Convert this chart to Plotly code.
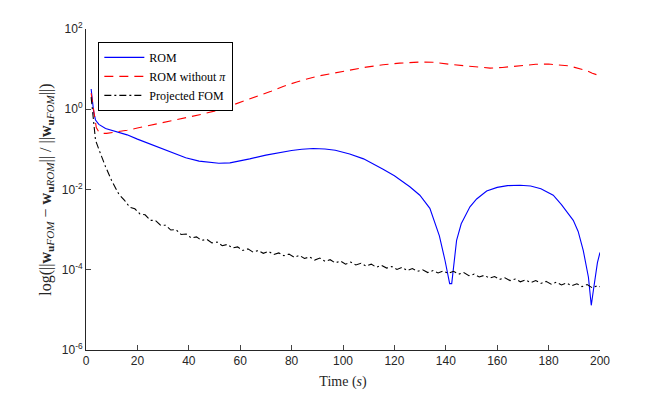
import plotly.graph_objects as go

# ROM error (blue)
t_rom = [2, 2.5, 3, 3.7, 5, 7.6, 10, 12.8, 16, 20, 25, 31, 35, 38.8, 44, 48, 51.7, 56, 60,
         63.7, 70, 75, 80, 84, 88.4, 93, 97, 102.6, 108, 115.6, 120, 126, 129.9, 133.8,
         135.5, 137.5, 139.7, 140.8, 141.5, 142.3, 143, 144.2, 146, 149.4, 152, 155.9,
         160, 164, 168.9, 173, 177, 181.8, 185, 189.6, 191.5, 193.5, 195.5, 196.6, 197.4,
         198.2, 199, 200]
err_rom = [3.2, 1.6, 0.85, 0.54, 0.42, 0.33, 0.30, 0.27, 0.23, 0.18, 0.135, 0.096, 0.078,
           0.062, 0.051, 0.047, 0.045, 0.046, 0.051, 0.058, 0.072, 0.083, 0.094, 0.101,
           0.105, 0.102, 0.095, 0.077, 0.058, 0.032, 0.022, 0.0117, 0.0072, 0.0034,
           0.0016, 0.0007, 0.00017, 7e-5, 4.5e-5, 4.5e-5, 0.00013, 0.00054, 0.0014,
           0.0037, 0.0058, 0.0092, 0.0113, 0.0125, 0.0128, 0.0122, 0.0105, 0.0072, 0.0042,
           0.0017, 0.0009, 0.0003, 6.5e-5, 1.3e-5, 3e-5, 8e-5, 0.00015, 0.00027]

# ROM without pi (red)
t_nopi = [2, 2.5, 3, 3.5, 4, 5, 6, 8, 10, 12.8, 16, 20, 25.8, 30, 38.8, 45, 51.7, 60, 65,
          68.6, 72, 76.7, 82, 89.7, 96, 102.6, 109, 115.6, 122, 130, 135, 142.9, 150,
          157.2, 162, 168.9, 175, 180, 188, 194.8, 197, 200]
err_nopi = [2.5, 1.5, 0.9, 0.5, 0.35, 0.27, 0.25, 0.25, 0.26, 0.275, 0.30, 0.34, 0.41,
            0.46, 0.6, 0.75, 0.96, 1.48, 1.9, 2.3, 2.8, 3.7, 4.8, 6.6, 7.9, 9.5, 11.2,
            12.8, 14.1, 15.0, 14.8, 12.9, 11.5, 10.6, 11.0, 12.3, 13.2, 13.4, 12.0, 9.2,
            7.9, 6.8]

# Projected FOM (black)
t_proj = [2, 2.5, 3, 3.7, 5, 6, 7.6, 10, 12.8] + list(range(15, 200, 2)) + [200]
err_proj = [2.0, 1.0, 0.4, 0.17, 0.1, 0.068, 0.037, 0.0166, 0.0076,
            5.37e-3, 3.63e-3, 3.31e-3, 2.45e-3, 2.34e-3, 1.70e-3, 1.70e-3, 1.29e-3,
            1.29e-3, 9.77e-4, 1.0e-3, 7.59e-4, 7.76e-4, 6.17e-4, 6.61e-4, 5.37e-4,
            5.75e-4, 4.68e-4, 4.90e-4, 3.98e-4, 4.27e-4, 3.47e-4, 3.72e-4, 3.02e-4,
            3.31e-4, 2.75e-4, 3.02e-4, 2.57e-4, 2.88e-4, 2.40e-4, 2.63e-4, 2.24e-4,
            2.45e-4, 2.04e-4, 2.29e-4, 1.91e-4, 2.09e-4, 1.74e-4, 1.95e-4, 1.62e-4,
            1.78e-4, 1.48e-4, 1.66e-4, 1.38e-4, 1.55e-4, 1.32e-4, 1.45e-4, 1.23e-4,
            1.38e-4, 1.15e-4, 1.29e-4, 1.10e-4, 1.20e-4, 1.02e-4, 1.15e-4, 9.55e-5,
            1.07e-4, 9.12e-5, 1.0e-4, 8.51e-5, 9.55e-5, 8.32e-5, 9.33e-5, 8.13e-5,
            9.12e-5, 7.76e-5, 8.51e-5, 7.08e-5, 7.76e-5, 6.61e-5, 7.24e-5, 6.17e-5,
            6.76e-5, 5.75e-5, 6.31e-5, 5.37e-5, 5.89e-5, 5.01e-5, 5.62e-5, 4.79e-5,
            5.37e-5, 4.57e-5, 5.13e-5, 4.37e-5, 4.90e-5, 4.17e-5, 4.68e-5, 3.98e-5,
            4.47e-5, 3.80e-5, 4.27e-5, 3.55e-5, 3.98e-5, 3.8e-5]

x_ticks = list(range(0, 201, 20))
y_ticks = [1e-6, 1e-4, 1e-2, 1e0, 1e2]
y_ticktext = ["10<sup>-6</sup>", "10<sup>-4</sup>", "10<sup>-2</sup>",
              "10<sup>0</sup>", "10<sup>2</sup>"]

serif = "Liberation Serif, DejaVu Serif, serif"
axis_col = "#262626"

fig = go.Figure()
fig.add_trace(go.Scatter(x=t_rom, y=err_rom, mode="lines", name="ROM",
                         line=dict(color="#0000ff", width=1.1)))
fig.add_trace(go.Scatter(x=t_nopi, y=err_nopi, mode="lines", name="ROM without <i>π</i>",
                         line=dict(color="#ff0000", width=1.1, dash="9px,6px")))
fig.add_trace(go.Scatter(x=t_proj, y=err_proj, mode="lines", name="Projected FOM",
                         line=dict(color="#000000", width=1.1, dash="7px,3px,2px,3px")))

fig.update_layout(
    width=664, height=394,
    margin=dict(l=86, r=64, t=29, b=44),
    paper_bgcolor="white", plot_bgcolor="white",
    font=dict(family="Liberation Sans, Arial, sans-serif", size=12, color=axis_col),
    legend=dict(x=0.024, y=0.96, xanchor="left", yanchor="top",
                bgcolor="white", bordercolor="#000000", borderwidth=1,
                font=dict(family=serif, size=12, color="#000000"),
                tracegroupgap=0, itemwidth=40),
    showlegend=True,
)
fig.update_xaxes(range=[0, 200], tickvals=x_ticks, ticks="inside", ticklen=5,
                 showline=True, linecolor=axis_col, linewidth=1, showgrid=False,
                 zeroline=False, automargin=False,
                 title=dict(text="Time (<i>s</i>)", font=dict(family=serif, size=14),
                            standoff=8))
fig.update_yaxes(type="log", range=[-6, 2], tickvals=y_ticks, ticktext=y_ticktext,
                 ticks="inside", ticklen=5, showline=True, linecolor=axis_col,
                 linewidth=1, showgrid=False, zeroline=False, automargin=False,
                 title=dict(text="log(||<b>w</b><sub><b>u</b><i>FOM</i></sub> − "
                                 "<b>w</b><sub><b>u</b><i>ROM</i></sub>|| / "
                                 "||<b>w</b><sub><b>u</b><i>FOM</i></sub>||)",
                            font=dict(family=serif, size=16), standoff=6))

fig.write_html("out.html", config={"displayModeBar": False},
               post_script="document.body.style.margin='0';")
